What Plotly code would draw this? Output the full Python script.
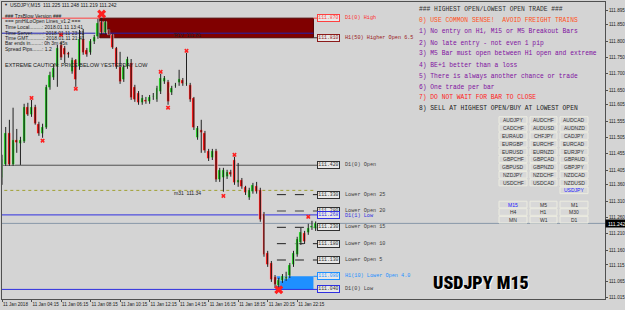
import plotly.graph_objects as go

# ---------------- data ----------------
bar_index = list(range(86))
opens = [111.381,111.421,111.519,111.421,111.498,111.485,111.491,111.599,111.574,111.599,
         111.547,111.516,111.534,111.657,111.687,111.721,111.788,111.779,111.764,111.706,
         111.742,111.721,111.807,111.773,111.764,111.797,111.813,111.859,111.825,111.834,
         111.819,111.779,111.721,111.681,111.721,111.733,111.660,111.641,111.611,111.620,
         111.614,111.629,111.620,111.644,111.675,111.675,111.641,111.663,111.672,111.681,
         111.669,111.666,111.626,111.504,111.528,111.519,111.464,111.443,111.464,111.375,
         111.381,111.385,111.400,111.436,111.366,111.375,111.354,111.320,111.339,111.357,
         111.345,111.271,111.152,111.121,111.078,111.051,111.066,111.072,111.081,111.115,
         111.146,111.182,111.213,111.213,111.228,111.225]
highs = [111.452,111.537,111.559,111.596,111.531,111.507,111.608,111.611,111.620,111.605,
         111.553,111.547,111.666,111.706,111.730,111.788,111.797,111.785,111.767,111.749,
         111.745,111.834,111.837,111.779,111.806,111.819,111.868,111.870,111.865,111.840,
         111.822,111.782,111.767,111.727,111.752,111.745,111.666,111.647,111.635,111.629,
         111.635,111.641,111.663,111.700,111.693,111.681,111.663,111.672,111.712,111.687,
         111.764,111.672,111.629,111.540,111.559,111.525,111.470,111.470,111.470,111.412,
         111.412,111.406,111.406,111.446,111.427,111.381,111.357,111.351,111.366,111.369,
         111.351,111.277,111.158,111.127,111.084,111.075,111.087,111.094,111.121,111.158,
         111.201,111.228,111.219,111.241,111.250,111.248]
lows = [111.360,111.418,111.418,111.418,111.458,111.421,111.488,111.571,111.568,111.544,
        111.510,111.504,111.531,111.651,111.681,111.660,111.742,111.733,111.749,111.700,
        111.660,111.712,111.758,111.752,111.758,111.791,111.807,111.819,111.819,111.816,
        111.776,111.715,111.669,111.675,111.715,111.620,111.614,111.605,111.605,111.608,
        111.608,111.620,111.614,111.638,111.669,111.605,111.635,111.657,111.663,111.663,
        111.663,111.614,111.528,111.498,111.458,111.458,111.433,111.436,111.369,111.369,
        111.339,111.378,111.385,111.360,111.354,111.348,111.329,111.314,111.333,111.333,
        111.247,111.140,111.109,111.063,111.045,111.040,111.060,111.066,111.075,111.109,
        111.140,111.176,111.179,111.207,111.222,111.219]
closes = [111.440,111.519,111.421,111.498,111.488,111.498,111.599,111.574,111.599,111.547,
          111.516,111.537,111.660,111.696,111.718,111.779,111.749,111.758,111.758,111.742,
          111.681,111.807,111.764,111.758,111.800,111.813,111.856,111.825,111.859,111.819,
          111.779,111.721,111.675,111.721,111.745,111.626,111.620,111.611,111.626,111.614,
          111.629,111.632,111.657,111.687,111.687,111.614,111.657,111.666,111.684,111.669,
          111.672,111.620,111.534,111.534,111.519,111.464,111.440,111.464,111.375,111.406,
          111.406,111.400,111.391,111.366,111.375,111.354,111.335,111.345,111.360,111.339,
          111.253,111.146,111.115,111.069,111.054,111.069,111.081,111.078,111.115,111.152,
          111.195,111.216,111.185,111.228,111.235,111.242]

time_tick_index = [0, 8, 16, 24, 32, 40, 48, 56, 64, 72, 80]
time_tick_text = ["11 Jan 2018", "11 Jan 04:15", "11 Jan 06:15", "11 Jan 08:15", "11 Jan 10:15",
                  "11 Jan 12:15", "11 Jan 14:15", "11 Jan 16:15", "11 Jan 18:15", "11 Jan 20:15",
                  "11 Jan 22:15"]
price_ticks = [111.895, 111.850, 111.800, 111.750, 111.700, 111.650, 111.605, 111.555, 111.505,
               111.455, 111.405, 111.360, 111.310, 111.260, 111.210, 111.160, 111.115, 111.065, 111.015]
price_tick_text = ["%.3f" % v for v in price_ticks]
bid_price = 111.242

# signal markers (bar index, price)
sig_small_x = [8, 11, 16, 20, 43, 45, 50, 60, 63, 83]
sig_small_y = [111.626, 111.495, 111.819, 111.654, 111.706, 111.596, 111.770, 111.326, 111.452, 111.262]
sig_big_x = [27, 75]
sig_big_y = [111.883, 111.039]

# levels
d1_high = 111.870
h1_higher_open = 111.810
d1_open = 111.420
lower_open_names = ["Lower Open 25", "Lower Open 20", "Lower Open 15", "Lower Open 10", "Lower Open 5"]
lower_open_vals = [111.330, 111.280, 111.230, 111.180, 111.130]
d1_prev_low = 111.268
h1_lower_open = 111.080
d1_low = 111.040
blue_level = 111.824
m31_level = 111.343

rules = [
    ("### HIGHEST OPEN/LOWEST OPEN TRADE ###", "#303030"),
    ("0) USE COMMON SENSE!  AVOID FREIGHT TRAINS", "#FF5020"),
    ("1) No entry on H1, M15 or M5 Breakout Bars", "#8010A0"),
    ("2) No late entry - not even 1 pip", "#8010A0"),
    ("3) M5 Bar must open between H1 open and extreme", "#8010A0"),
    ("4) BE+1 better than a loss", "#8010A0"),
    ("5) There is always another chance or trade", "#8010A0"),
    ("6) One trade per bar", "#8010A0"),
    ("7) DO NOT WAIT FOR BAR TO CLOSE", "#FF2020"),
    ("8) SELL AT HIGHEST OPEN/BUY AT LOWEST OPEN", "#202020"),
]
pairs_col1 = ["AUDJPY", "CADCHF", "EURAUD", "EURGBP", "EURUSD", "GBPCHF", "GBPUSD", "NZDJPY", "USDCHF"]
pairs_col2 = ["AUDCHF", "AUDUSD", "CHFJPY", "EURCHF", "EURNZD", "GBPCAD", "GBPNZD", "NZDCHF", "USDCAD"]
pairs_col3 = ["AUDCAD", "AUDNZD", "CADJPY", "EURCAD", "EURJPY", "GBPAUD", "GBPJPY", "NZDCAD", "NZDUSD", "USDJPY"]
tf_rows = [["M15", "M5", "M1"], ["H4", "H1", "M30"], ["MN", "W1", "D1"]]

info_lines = ["### TzsBlow Version ###", "=== pmHiLoOpen Lines_v1.2 ===",
              "Time Local.........: 2018.01.11 13:41", "Time Server........: 2018.01.11 23:41",
              "Time GMT...........: 2018.01.11 21:41", "Bar ends in........: 0h 3m 45s",
              "Spread Pips.......: 1.2"]

# ---------------- geometry helpers (layout only) ----------------
W, H = 625, 310
L_PX, R_PX, T_PX, B_PX = 2, 605, 2, 299
BAR_PX = 3.69

def PX(px):
    return (px - L_PX) / (R_PX - L_PX)

def PY(py):
    return (B_PX - py) / (B_PX - T_PX)

x_range = [0.0, (R_PX - L_PX) / BAR_PX]
y_top = 111.9256 - 0.00306 * T_PX
y_bot = 111.9256 - 0.00306 * B_PX

BG = "#D4D4D4"
fig = go.Figure()

# wicks
wx, wy = [], []
for i, hi, lo in zip(bar_index, highs, lows):
    wx += [i, i, None]
    wy += [lo, hi, None]
fig.add_trace(go.Scatter(x=wx, y=wy, mode="lines", line=dict(color="#202020", width=1),
                         hoverinfo="skip", showlegend=False))

# bodies
base = [min(o, c) for o, c in zip(opens, closes)]
hgt = [max(abs(c - o), 0.0012) for o, c in zip(opens, closes)]
cols = ["#10C010" if c >= o else "#F00000" for o, c in zip(opens, closes)]
fig.add_trace(go.Bar(x=bar_index, y=hgt, base=base, width=0.8,
                     marker=dict(color=cols, line=dict(color="#F4F4F4", width=0.6)),
                     hoverinfo="skip", showlegend=False))

fig.add_trace(go.Scatter(x=sig_small_x, y=sig_small_y, mode="markers",
                         marker=dict(symbol="x", size=4, color="#FF2020", line=dict(width=0)),
                         showlegend=False, hoverinfo="skip"))
fig.add_trace(go.Scatter(x=sig_big_x, y=sig_big_y, mode="markers",
                         marker=dict(symbol="x", size=8, color="#FF2020", line=dict(width=0)),
                         showlegend=False, hoverinfo="skip"))

shapes = []
annos = []
box_l, box_r = 85.7, 91.1
box_c = (box_l + box_r) / 2
lab_x = 92.5
rect_r = 84.4
x_min = -1

def hline(y, x0, x1, color, width=1, dash="solid"):
    shapes.append(dict(type="line", xref="x", yref="y", x0=x0, x1=x1, y0=y, y1=y,
                       line=dict(color=color, width=width, dash=dash), layer="below"))

def level_box(y, text, border, fg, bg="#E8E8E8"):
    annos.append(dict(x=box_c, y=y, xref="x", yref="y", text=text, showarrow=False,
                      xanchor="center", yanchor="middle",
                      font=dict(size=4.8, color=fg, family="Liberation Mono"),
                      bordercolor=border, borderwidth=1, borderpad=0.3, bgcolor=bg))

def level_label(y, text, color):
    annos.append(dict(x=lab_x, y=y, xref="x", yref="y", text=text, showarrow=False,
                      xanchor="left", yanchor="middle",
                      font=dict(size=5.2, color=color, family="Liberation Mono")))

def ptext(px, py, text, size, color, family="Liberation Sans", anchor="left", weight=None):
    f = dict(size=size, color=color, family=family)
    if weight:
        f["weight"] = weight
    annos.append(dict(x=PX(px), y=PY(py), xref="paper", yref="paper", text=text, showarrow=False,
                      xanchor=anchor, yanchor="middle", font=f))

# zone rectangles
shapes.append(dict(type="rect", xref="x", yref="y", x0=26.5, x1=rect_r, y0=h1_higher_open, y1=d1_high,
                   fillcolor="#800000", line=dict(color="#500000", width=1), layer="below"))
shapes.append(dict(type="rect", xref="x", yref="y", x0=74.3, x1=rect_r, y0=d1_low, y1=h1_lower_open,
                   fillcolor="#1E90FF", line=dict(width=0), layer="below"))

hline(d1_high, x_min, 26.5, "#FF4040")
hline(d1_high, rect_r, box_l, "#FF4040")
hline(h1_higher_open, rect_r, box_l, "#303030")
hline(blue_level, x_min, rect_r, "#2020B0")
hline(m31_level, x_min, rect_r, "#A0A030", dash="dot")
hline(d1_open, x_min, box_l, "#505050")
hline(d1_prev_low, x_min, box_l, "#3030E0")
hline(d1_low, x_min, box_l, "#3030E0")
hline(h1_lower_open, rect_r, box_l, "#1E90FF")
for nm, v in zip(lower_open_names, lower_open_vals):
    if nm == "Lower Open 20":
        hline(v, 74.5, box_l, "#8A8A8A", width=2, dash="dash")
    else:
        hline(v, 74.5, box_l, "#202020", width=1, dash="dash")
# bid line
shapes.append(dict(type="line", xref="paper", yref="y", x0=0, x1=1, y0=bid_price, y1=bid_price,
                   line=dict(color="#8898A8", width=1), layer="below"))

level_box(d1_high, "111.870", "#FF4040", "#FF4040")
level_label(d1_high, "D1(0) High", "#FF3030")
level_box(h1_higher_open, "111.810", "#8B1A1A", "#8B1A1A")
level_label(h1_higher_open, "H1(50) Higher Open 6.5", "#9A2020")
level_box(d1_open, "111.420", "#303030", "#303030")
level_label(d1_open, "D1(0) Open", "#404040")
for nm, v in zip(lower_open_names, lower_open_vals):
    level_box(v, "%.3f" % v, "#303030", "#303030")
    level_label(v, nm, "#404040")
level_box(d1_prev_low, "111.268", "#3030E0", "#3030E0")
level_label(d1_prev_low - 0.004, "D1(1) Low", "#3030E0")
level_box(h1_lower_open, "111.080", "#1E90FF", "#1E90FF")
level_label(h1_lower_open, "H1(10) Lower Open 4.0", "#1E90FF")
level_box(d1_low, "111.040", "#3030E0", "#303030")
level_label(d1_low, "D1(0) Low", "#404040")

# small chart texts
annos.append(dict(x=46, y=blue_level - 0.006, xref="x", yref="y", text="R1V  111.81", showarrow=False,
                  xanchor="left", yanchor="middle", font=dict(size=5, color="#202020", family="Liberation Sans")))
annos.append(dict(x=46, y=m31_level - 0.008, xref="x", yref="y", text="m31  111.34", showarrow=False,
                  xanchor="left", yanchor="middle", font=dict(size=5, color="#202020", family="Liberation Sans")))

# header and info text
ptext(8, 5, "USDJPY,M15  111.225 111.248 111.219 111.242", 5, "#202020")
ptext(2, 5, "▼", 4, "#202020")
info_y = [15.7, 21, 26.7, 32.7, 38, 43.3, 49]
for t, yy in zip(info_lines, info_y):
    ptext(3, yy, t, 5, "#202020")
ptext(3, 65, "EXTREME CAUTION: PRICE BELOW YESTERDAY LOW", 5.5, "#202020")

# rules panel
rule_y = [9, 20.5, 32, 43, 54, 65, 76, 87, 98, 108.5]
for (t, c), yy in zip(rules, rule_y):
    ptext(417, yy, t, 6.3, c, family="Liberation Mono")

# buttons
col_x = [(499, 527), (530, 557), (560, 588)]
row_y = [120, 128, 136, 143.8, 151.5, 159.3, 167, 174.8, 182.5, 190.3]

def button(x0, x1, yc, text, color="#303030"):
    shapes.append(dict(type="rect", xref="paper", yref="paper", x0=PX(x0), x1=PX(x1),
                       y0=PY(yc + 3.3), y1=PY(yc - 3.3), fillcolor="#D8D8D8",
                       line=dict(color="#ECECE0", width=1), layer="above"))
    ptext((x0 + x1) / 2, yc, text, 5, color, anchor="center")

for ci, col in enumerate([pairs_col1, pairs_col2, pairs_col3]):
    for ri, p in enumerate(col):
        button(col_x[ci][0], col_x[ci][1], row_y[ri], p, "#2020FF" if p == "USDJPY" else "#303030")
tf_y = [204.5, 212, 219.7]
for ri, row in enumerate(tf_rows):
    for ci, t in enumerate(row):
        button(col_x[ci][0], col_x[ci][1], tf_y[ri], t, "#2020FF" if t == "M15" else "#303030")

# big symbol text with white shadow
big_font = "Roboto Condensed, Roboto, Liberation Sans"
for dx, dy, c in [(1.2, 1.2, "#FFFFFF"), (0, 0, "#000000")]:
    ptext(431 + dx, 282 + dy, "USDJPY M15", 18, c, family=big_font, weight=900)

# bid price box on axis
annos.append(dict(x=1.0, y=bid_price, xref="paper", yref="y", xanchor="left", yanchor="middle",
                  text=" 111.242", showarrow=False, bgcolor="#000000",
                  font=dict(size=5, color="#FFFFFF", family="Liberation Sans"), borderpad=0.5))

fig.update_layout(
    width=W, height=H, margin=dict(l=L_PX, r=W - R_PX, t=T_PX, b=H - B_PX, autoexpand=False),
    paper_bgcolor=BG, plot_bgcolor=BG, showlegend=False, bargap=0,
    shapes=shapes, annotations=annos,
    xaxis=dict(range=x_range, tickvals=time_tick_index, ticktext=time_tick_text, showgrid=False,
               automargin=False, tickangle=0,
               zeroline=False, showline=True, linecolor="#505050", mirror=True, ticks="outside",
               ticklen=2, tickcolor="#505050", ticklabelposition="outside right",
               tickfont=dict(size=4.6, color="#202020", family="Liberation Sans")),
    yaxis=dict(range=[y_bot, y_top], side="right", tickvals=price_ticks, ticktext=price_tick_text,
               automargin=False,
               showgrid=False, zeroline=False, showline=True, linecolor="#505050", mirror=True,
               ticks="outside", ticklen=2, tickcolor="#505050",
               tickfont=dict(size=4.6, color="#202020", family="Liberation Sans")),
)

fig.write_html("out.html")
